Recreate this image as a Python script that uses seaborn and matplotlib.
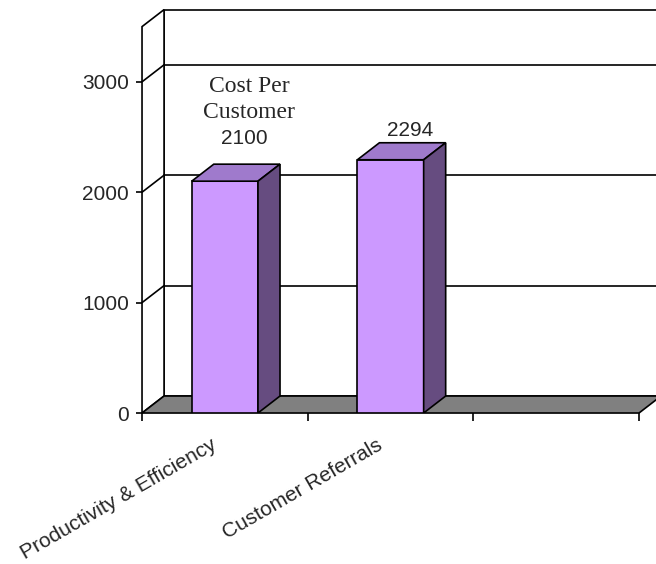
import matplotlib
matplotlib.use('Agg')
import matplotlib.pyplot as plt
import matplotlib.transforms as mtransforms
from matplotlib.patches import Polygon
import pandas as pd
import seaborn as sns

# chart data
categories = ['Productivity & Efficiency', 'Customer Referrals', '']
costs = [2100, 2294]
series_name = 'Cost Per\nCustomer'
y_ticks = [0, 1000, 2000, 3000]
y_max = 3500

sns.set_style('white')
plt.rcParams['font.family'] = ['Liberation Sans', 'DejaVu Sans']

df = pd.DataFrame({'category': categories[:len(costs)], 'cost': costs})

fig = plt.figure(figsize=(6.56, 5.64), dpi=100)
ax = fig.add_axes([0.2165, 0.2677, 0.7576, 0.6851])

sns.barplot(data=df, x='category', y='cost', order=categories, width=0.4,
            color='#CC99FF', saturation=1, edgecolor='black', linewidth=1.2,
            ax=ax)
bars = list(ax.patches)

ax.set_xlim(-0.5, len(categories) - 0.5)
ax.set_ylim(0, y_max)
x0, x1 = ax.get_xlim()

# fake 3d depth (data units)
dx, dy = 0.133, 154
lw = 1.2

# back wall + left wall
back = Polygon([(x0 + dx, dy), (x1 + dx, dy), (x1 + dx, y_max + dy), (x0 + dx, y_max + dy)],
               facecolor='white', edgecolor='black', lw=lw, clip_on=False, zorder=0.5)
left = Polygon([(x0, 0), (x0 + dx, dy), (x0 + dx, y_max + dy), (x0, y_max)],
               facecolor='white', edgecolor='black', lw=lw, clip_on=False, zorder=0.6)
ax.add_patch(back)
ax.add_patch(left)
for v in y_ticks[1:]:
    ax.plot([x0 + dx, x1 + dx], [v + dy, v + dy], color='black', lw=lw, clip_on=False, zorder=0.7)
    ax.plot([x0, x0 + dx], [v, v + dy], color='black', lw=lw, clip_on=False, zorder=0.7)

# floor
floor = Polygon([(x0, 0), (x1, 0), (x1 + dx, dy), (x0 + dx, dy)],
                facecolor='#808080', edgecolor='black', lw=lw, clip_on=False, zorder=1)
ax.add_patch(floor)

# bar sides and tops
for p in bars:
    h = p.get_height()
    if not h or h != h:
        continue
    bx, bw = p.get_x(), p.get_width()
    p.set_zorder(3)
    top = Polygon([(bx, h), (bx + bw, h), (bx + bw + dx, h + dy), (bx + dx, h + dy)],
                  facecolor='#9F7ACC', edgecolor='black', lw=lw, zorder=3)
    side = Polygon([(bx + bw, 0), (bx + bw + dx, dy), (bx + bw + dx, h + dy), (bx + bw, h)],
                   facecolor='#664C80', edgecolor='black', lw=lw, zorder=3)
    ax.add_patch(top)
    ax.add_patch(side)

# data labels
label_pads = [14.5, 4.8]
for i, (p, v) in enumerate(zip(bars, costs)):
    cx = p.get_x() + p.get_width() / 2 + dx * 0.9
    ax.annotate(f'{v}', xy=(cx, v + dy), xytext=(0, label_pads[i]),
                textcoords='offset points', ha='center', va='baseline',
                fontsize=15, zorder=5, annotation_clip=False)
    if i == 0:
        ax.annotate(series_name, xy=(cx, v + dy), xytext=(3, label_pads[i] + 15),
                    textcoords='offset points', ha='center', va='bottom',
                    fontsize=17, family=['Liberation Serif', 'DejaVu Serif'],
                    linespacing=1.3, zorder=5, annotation_clip=False)

sns.despine(ax=ax, left=True, bottom=True, top=True, right=True)
ax.set_xlabel('')
ax.set_ylabel('')
ax.set_yticks(y_ticks)
ax.tick_params(axis='y', left=True, length=4.5, width=lw, pad=5, labelsize=15, color='black')
ax.set_xticks([i - 0.5 for i in range(len(categories) + 1)], minor=True)
ax.tick_params(axis='x', which='minor', bottom=True, length=6, width=lw, color='black')
ax.tick_params(axis='x', which='major', bottom=False, length=0, pad=22, labelsize=15)
shift = mtransforms.ScaledTranslation(-10 / 100, 0, fig.dpi_scale_trans)
for lbl in ax.get_xticklabels():
    lbl.set_rotation(30)
    lbl.set_ha('right')
    lbl.set_va('center')
    lbl.set_rotation_mode('anchor')
    lbl.set_transform(lbl.get_transform() + shift)

fig.savefig('out.png', dpi=100)
